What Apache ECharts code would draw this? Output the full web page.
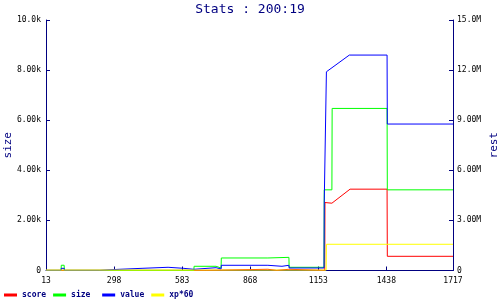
<!DOCTYPE html>
<html><head><meta charset="utf-8">
<script src="https://cdn.jsdelivr.net/npm/echarts@6/dist/echarts.min.js"></script>
<style>html,body{margin:0;padding:0;background:#fff}#c{width:500px;height:300px}</style>
</head><body><div id="c"></div>
<script>
const title = 'Stats : 200:19';
const seriesNames = ['score', 'size', 'value', 'xp*60'];
const xTicks = [13, 298, 583, 868, 1153, 1438, 1717];
// [x, y] points, size on left axis, rest on right axis
const scoreData = [[13,10000],[682,10000],[683,72000],[942,72000],[943,10000],[979,10000],[980,72000],[1030,72000],[1031,10000],[1180,10000],[1181,4070000],[1210,4030000],[1286,4870000],[1441,4870000],[1442,850000],[1717,850000]];
const sizeData = [[13,5],[76,5],[77,210],[89,210],[90,5],[632,5],[633,168],[725,168],[726,100],[746,100],[747,500],[942,500],[943,525],[1030,525],[1031,128],[1177,128],[1178,3220],[1210,3220],[1211,6470],[1441,6470],[1442,3220],[1717,3220]];
const valueData = [[13,10000],[76,10000],[77,130000],[89,130000],[90,10000],[238,10000],[239,72000],[319,72000],[320,132000],[419,132000],[420,192000],[524,192000],[525,132000],[587,132000],[588,72000],[632,72000],[633,168000],[725,168000],[726,90000],[746,90000],[747,312000],[942,312000],[943,252000],[1001,252000],[1002,312000],[1030,312000],[1031,150000],[1177,150000],[1178,4170000],[1186,4170000],[1187,11900000],[1283,12900000],[1441,12900000],[1442,8770000],[1717,8770000]];
const xpData = [[13,25000],[1186,25000],[1187,1570000],[1717,1570000]];

const NAVY = '#000080';
const mono = 'DejaVu Sans Mono';
const chart = echarts.init(document.getElementById('c'), null, {renderer:'canvas'});
const mk = (name, data, color, yIdx) => ({
  name, type:'line', data, yAxisIndex:yIdx, symbol:'none', showSymbol:false,
  lineStyle:{color, width:1}, itemStyle:{color}, animation:false
});
chart.setOption({
  animation:false,
  backgroundColor:'#fff',
  title:{text:title, left:'center', top:-2, textStyle:{fontFamily:mono, fontSize:13, fontWeight:'normal', color:NAVY}},
  grid:{left:46, right:47, top:20, bottom:29.5, containLabel:false, outerBoundsMode:'none'},
  legend:{left:4, top:290, itemWidth:13, itemHeight:3, itemGap:7, icon:'rect', padding:0,
    data:seriesNames,
    formatter: n => n === 'size' ? 'size ' : n,
    textStyle:{fontFamily:mono, fontSize:8, fontWeight:'bold', color:NAVY, lineHeight:10}},
  xAxis:{type:'value', min:xTicks[0], max:xTicks[xTicks.length-1], interval:285,
    axisLine:{lineStyle:{color:NAVY, width:1}},
    axisTick:{inside:true, length:4, lineStyle:{color:NAVY}},
    axisLabel:{fontFamily:mono, fontSize:8, color:'#000', margin:6, showMaxLabel:true, showMinLabel:true,
      formatter:v => String(v)},
    splitLine:{show:false}},
  yAxis:[
    {type:'value', min:0, max:10000, interval:2000, name:'size', nameLocation:'middle', nameGap:32, nameMoveOverlap:false,
     nameTextStyle:{fontFamily:mono, fontSize:11, color:NAVY},
     axisLine:{show:true, lineStyle:{color:NAVY}},
     axisTick:{show:true, inside:true, length:4, lineStyle:{color:NAVY}},
     axisLabel:{fontFamily:mono, fontSize:8, color:'#000', margin:5,
       formatter:v => v===0 ? '0' : (v>=10000 ? (v/1000).toFixed(1) : (v/1000).toFixed(2)) + 'k'},
     splitLine:{show:false}},
    {type:'value', min:0, max:15000000, interval:3000000, name:'rest', nameLocation:'middle', nameGap:36, nameMoveOverlap:false,
     nameTextStyle:{fontFamily:mono, fontSize:11, color:NAVY},
     axisLine:{show:true, lineStyle:{color:NAVY}},
     axisTick:{show:true, inside:true, length:4, lineStyle:{color:NAVY}},
     axisLabel:{fontFamily:mono, fontSize:8, color:'#000', margin:4,
       formatter:v => v===0 ? '0' : (v>=1e7 ? (v/1e6).toFixed(1) : (v/1e6).toFixed(2)) + 'M'},
     splitLine:{show:false}}
  ],
  series:[
    mk(seriesNames[0], scoreData, '#ff0000', 1),
    mk(seriesNames[1], sizeData, '#00ff00', 0),
    mk(seriesNames[2], valueData, '#0000ff', 1),
    mk(seriesNames[3], xpData, '#ffff00', 1)
  ]
});
</script></body></html>
